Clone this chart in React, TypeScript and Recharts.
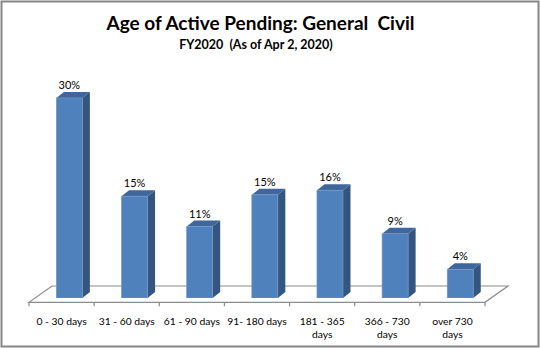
import React from "react";
import { BarChart, Bar, XAxis, YAxis, LabelList } from "recharts";

const categories = [
  "0 - 30 days",
  "31 - 60 days",
  "61 - 90 days",
  "91- 180 days",
  "181 - 365\ndays",
  "366 - 730\ndays",
  "over 730\ndays",
];
const shares = [30.0, 15.1, 10.5, 15.3, 16.0, 9.4, 4.0];

const data = categories.map((label, i) => ({ label, value: shares[i] }));

const W = 541;
const H = 349;
const AXIS_H = 40;
const MARGIN = { top: 70, right: 56, bottom: 51 - AXIS_H, left: 29 };
const FONT = "Lato, 'Open Sans', sans-serif";

// 3d look: bars sit half way into the floor, side face goes up-right
const SHIFT = 7.4;
const DX = 7.5;
const DY = 6;
const FLOOR_DX = 23;
const FLOOR_DY = 16.3;
const FRONT_Y = 302.3;

const FRONT = "#4F81BD";
const SIDE = "#34557F";
const TOP = "#3F679B";

function Bar3D(props: any) {
  const { x, y, width, height, background } = props;
  if (width == null || height == null) return null;
  const left = x + SHIFT;
  const right = left + width;
  const bottom = background ? background.y + background.height : y + height + 2.3;
  return (
    <g>
      <polygon
        points={`${right},${y} ${right + DX},${y - DY} ${right + DX},${bottom - DY} ${right},${bottom}`}
        fill={SIDE}
      />
      <polygon
        points={`${left},${y} ${left + DX},${y - DY} ${right + DX},${y - DY} ${right},${y}`}
        fill={TOP}
      />
      <rect x={left} y={y} width={width} height={bottom - y} fill={FRONT} stroke="#7396C6" strokeWidth={0.7} />
    </g>
  );
}

function ValueLabel(props: any) {
  const { x, y, width, value } = props;
  return (
    <text
      x={x + SHIFT + width / 2}
      y={y - 9}
      textAnchor="middle"
      fontSize={11}
      fontFamily={FONT}
      fill="#000"
    >
      {`${Math.round(value)}%`}
    </text>
  );
}

function CatTick(props: any) {
  const { x, y, payload } = props;
  const lines = String(payload.value).split("\n");
  return (
    <text x={x} y={y} textAnchor="middle" fontSize={10.3} fontFamily={FONT} fill="#000">
      {lines.map((l, i) => (
        <tspan key={i} x={x} dy={i === 0 ? 19 : 13.3}>
          {l}
        </tspan>
      ))}
    </text>
  );
}

function Backdrop() {
  const l = MARGIN.left;
  const r = W - MARGIN.right;
  const n = categories.length;
  const step = (r - l) / n;
  return (
    <svg width={W} height={H} style={{ position: "absolute", left: 0, top: 0 }}>
      <rect x={1.5} y={1.5} width={W - 4} height={H - 4} fill="#fff" stroke="#868686" strokeWidth={2} />
      <text x={260.5} y={30} textAnchor="middle" fontSize={19} fontWeight="bold" fontFamily={FONT} fill="#000" style={{ whiteSpace: "pre" }}>
        Age of Active Pending: General  Civil
      </text>
      <text x={256} y={49} textAnchor="middle" fontSize={12.5} fontWeight="bold" fontFamily={FONT} fill="#000" style={{ whiteSpace: "pre" }}>
        FY2020  (As of Apr 2, 2020)
      </text>
      <polygon
        points={`${l},${FRONT_Y} ${r},${FRONT_Y} ${r + FLOOR_DX},${FRONT_Y - FLOOR_DY} ${l + FLOOR_DX},${FRONT_Y - FLOOR_DY}`}
        fill="none"
        stroke="#8C8C8C"
        strokeWidth={1.2}
      />
      {Array.from({ length: n + 1 }, (_, i) => (
        <line key={i} x1={l + i * step} x2={l + i * step} y1={FRONT_Y} y2={FRONT_Y + 4} stroke="#8C8C8C" strokeWidth={1.2} />
      ))}
    </svg>
  );
}

export default function App() {
  return (
    <div style={{ position: "absolute", left: 0, top: 0, width: W, height: H }}>
      <Backdrop />
      <div style={{ position: "absolute", left: 0, top: 0 }}>
        <BarChart width={W} height={H} data={data} margin={MARGIN} barCategoryGap={0}>
          <XAxis
            dataKey="label"
            axisLine={false}
            tickLine={false}
            interval={0}
            height={AXIS_H}
            tick={<CatTick />}
          />
          <YAxis hide type="number" domain={[-0.35, 34.25]} allowDataOverflow />
          <Bar dataKey="value" barSize={26} shape={<Bar3D />} isAnimationActive={false}>
            <LabelList dataKey="value" content={<ValueLabel />} />
          </Bar>
        </BarChart>
      </div>
    </div>
  );
}
